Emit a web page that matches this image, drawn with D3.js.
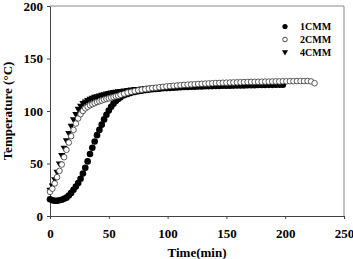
<!DOCTYPE html>
<html>
<head>
<meta charset="utf-8">
<script src="https://cdn.jsdelivr.net/npm/d3@7"></script>
<style>
    body { margin: 0; background: #fff; }
    text { font-family: "Liberation Serif", "Times New Roman", serif; font-weight: bold; }
</style>
</head>
<body>
<svg id="chart" width="353" height="259"></svg>
<script>
// time (min) shared by all series
let time = [0,2,4,6,8,10,12,14,16,18,20,22,24,26,28,30,32,34,36,38,40,42,44,46,48,50,52,54,56,58,60,
    63,66,69,72,75,78,81,84,87,90,93,96,99,102,105,108,111,114,117,120,123,126,129,132,135,138,141,144,147,150,
    153,156,159,162,165,168,171,174,177,180,183,186,189,192,195,198,
    201,204,207,210,213,216,219,222,225]

let cmm1 = [16,15,14.5,14.5,15,15.5,16.5,17.5,19.5,22,25,28,31.5,35.5,40.5,46,52,59,65,71,77,82,87,92,96.5,100.5,104,107,109.5,111.5,113,
    115,116.3,117.3,118.2,118.8,119.4,119.9,120.3,120.7,121,121.3,121.6,121.8,122,122.2,122.4,122.6,122.8,122.9,123.1,
    123.2,123.3,123.4,123.5,123.6,123.7,123.8,123.9,124,124,124.1,124.2,124.3,124.4,124.4,124.5,124.6,124.6,124.7,124.8,
    124.8,124.9,124.9,125,125,125]

let cmm2 = [23,26,31,37,43,49,56,63,70,76,82,88,93,97,100,102.5,104,105.5,106.5,107.5,108.5,109.3,110,110.8,111.5,112,112.7,113.3,114,114.5,115.5,
    116.5,117.5,118.3,119,119.7,120.3,120.8,121.3,121.8,122.2,122.6,123,123.4,123.7,124,124.3,124.6,124.9,125.1,125.3,
    125.5,125.7,125.9,126.1,126.3,126.4,126.6,126.7,126.9,127,127.1,127.2,127.3,127.4,127.5,127.6,127.7,127.8,127.8,127.9,
    128,128,128.1,128.2,128.2,128.3,128.3,128.4,128.4,128.5,128.5,128.5,128.6,128.2,126.5]

let cmm4 = [25,29,35,42,50,58,65,72,79,86,92,97,102,105,107.5,109,110.5,111.5,112.5,113.5,114,114.8,115.5,116,116.5,117,117.5,118,118.3,118.7,119,
    119.5,120,120.4,120.8,121,121.4,121.7,122,122.2,122.5,122.7,123,123.2,123.3,123.5,123.7,123.8,124,124.1,124.3,
    124.4,124.5,124.7,124.8,124.9,125,125.1,125.2,125.3,125.4,125.5,125.6,125.6,125.7,125.8,125.9,125.9,126,126,126.1,
    126.2,126.2,126.3,126.3,126.4,126.4]

let seriesNames = ['1CMM', '2CMM', '4CMM']
let xTicks = [0, 50, 100, 150, 200, 250]
let yTicks = [0, 50, 100, 150, 200]

let m = {top: 6, left: 50, right: 9, bottom: 43}
let w = 353 - m.left - m.right
let h = 259 - m.top - m.bottom

let svg = d3.select('#chart')

let xScale = d3.scaleLinear().domain([0, 250]).range([m.left, m.left + w])
let yScale = d3.scaleLinear().domain([0, 200]).range([m.top + h, m.top])

// frame top / right
svg.append('line')
    .attr('x1', xScale(0)).attr('x2', xScale(250))
    .attr('y1', yScale(200)).attr('y2', yScale(200))
    .attr('stroke', '#8a8a8a').attr('stroke-width', 1)
svg.append('line')
    .attr('x1', xScale(250)).attr('x2', xScale(250))
    .attr('y1', yScale(0)).attr('y2', yScale(200))
    .attr('stroke', '#8a8a8a').attr('stroke-width', 1)

let xAxis = d3.axisBottom(xScale).tickValues(xTicks).tickSize(3).tickPadding(10).tickSizeOuter(0)
let yAxis = d3.axisLeft(yScale).tickValues(yTicks).tickSize(3).tickPadding(4).tickSizeOuter(0)

svg.append('g')
    .attr('transform', `translate(0, ${m.top + h})`)
    .call(xAxis)
    .call(g => g.selectAll('path, line').attr('stroke', '#444'))
    .call(g => g.selectAll('text').attr('font-size', 13).attr('fill', '#000')
        .style('font-family', '"Liberation Serif", serif').style('font-weight', 'bold'))

svg.append('g')
    .attr('transform', `translate(${m.left}, 0)`)
    .call(yAxis)
    .call(g => g.selectAll('path, line').attr('stroke', '#444'))
    .call(g => g.selectAll('text').attr('font-size', 13).attr('fill', '#000')
        .style('font-family', '"Liberation Serif", serif').style('font-weight', 'bold'))

// axis titles
svg.append('text')
    .attr('x', m.left + w / 2)
    .attr('y', 257)
    .attr('text-anchor', 'middle')
    .attr('font-size', 13)
    .text('Time(min)')

svg.append('text')
    .attr('transform', `translate(12, ${m.top + h / 2}) rotate(-90)`)
    .attr('text-anchor', 'middle')
    .attr('font-size', 13)
    .text('Temperature (\u00B0C)')

let tri = d3.symbol().type(d3.symbolTriangle).size(22)
let triLeg = d3.symbol().type(d3.symbolTriangle).size(16)

function pts(vals) {
    return vals.map((v, i) => ({t: time[i], T: v}))
}

// 1CMM filled circles
svg.append('g').selectAll('circle')
    .data(pts(cmm1))
    .enter().append('circle')
    .attr('cx', d => xScale(d.t))
    .attr('cy', d => yScale(d.T))
    .attr('r', 3.3)
    .attr('fill', '#000')

// 4CMM down triangles
svg.append('g').selectAll('path')
    .data(pts(cmm4))
    .enter().append('path')
    .attr('d', tri)
    .attr('transform', d => `translate(${xScale(d.t)}, ${yScale(d.T)}) rotate(180)`)
    .attr('fill', '#000')

// 2CMM open circles
svg.append('g').selectAll('circle')
    .data(pts(cmm2))
    .enter().append('circle')
    .attr('cx', d => xScale(d.t))
    .attr('cy', d => yScale(d.T))
    .attr('r', 2.8)
    .attr('fill', '#fff')
    .attr('stroke', '#333')
    .attr('stroke-width', 0.8)

// legend
let legend = svg.append('g')
let legY = [26.5, 39.5, 52]
seriesNames.forEach((name, i) => {
    let g = legend.append('g').attr('transform', `translate(285, ${legY[i]})`)
    if (i == 0) {
        g.append('circle').attr('r', 2.6).attr('fill', '#000')
    } else if (i == 1) {
        g.append('circle').attr('r', 2.3).attr('fill', '#fff').attr('stroke', '#222').attr('stroke-width', 0.8)
    } else {
        g.append('path').attr('d', triLeg).attr('transform', 'rotate(180)').attr('fill', '#000')
    }
    g.append('text')
        .attr('x', 15)
        .attr('dy', '0.35em')
        .attr('font-size', 10)
        .text(name)
})
</script>
</body>
</html>
